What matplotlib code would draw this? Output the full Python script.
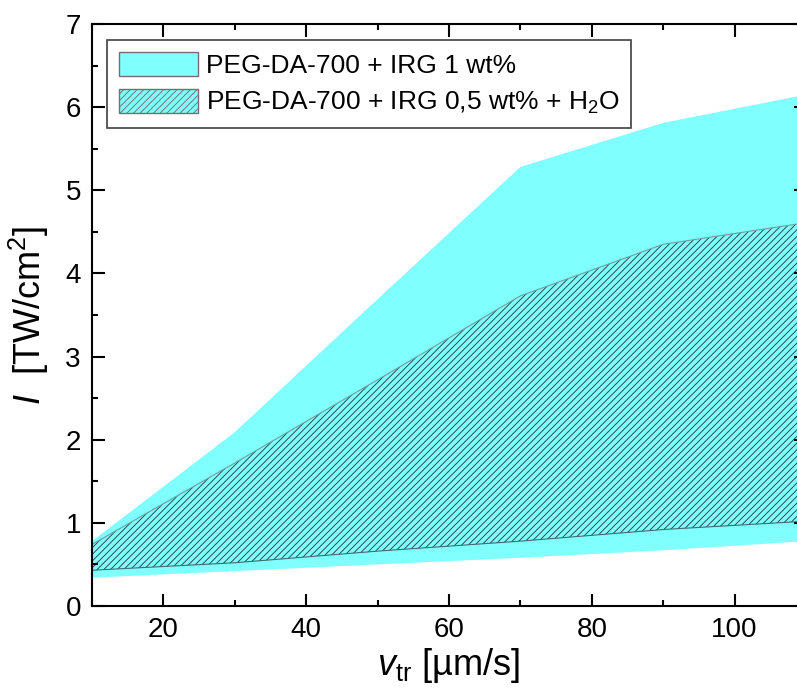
import matplotlib
matplotlib.use("Agg")
import matplotlib.pyplot as plt
from matplotlib.patches import Patch
from matplotlib.ticker import MultipleLocator

plt.rcParams['font.family'] = ['Liberation Sans', 'DejaVu Sans']
plt.rcParams['mathtext.fontset'] = 'custom'
plt.rcParams['mathtext.rm'] = 'Liberation Sans'
plt.rcParams['mathtext.it'] = 'Liberation Sans:italic'
plt.rcParams['mathtext.bf'] = 'Liberation Sans:bold'
plt.rcParams['hatch.linewidth'] = 0.65

# data
v_tr = [10, 30, 50, 70, 90, 110]
irg1_upper = [0.78, 2.09, 3.69, 5.28, 5.81, 6.15]
irg1_lower = [0.34, 0.42, 0.50, 0.58, 0.67, 0.78]
irg05_upper = [0.74, 1.72, 2.72, 3.73, 4.35, 4.61]
irg05_lower = [0.43, 0.52, 0.66, 0.78, 0.92, 1.02]
labels = ["PEG-DA-700 + IRG 1 wt%", "PEG-DA-700 + IRG 0,5 wt% + H$_2$O"]

cyan = '#80FFFF'

fig = plt.figure(figsize=(7.97, 6.95), dpi=100)
ax = fig.add_axes([92/797, 1-606/695, (806-92)/797, (606-24)/695])

ax.fill_between(v_tr, irg1_lower, irg1_upper, facecolor=cyan, edgecolor='none', lw=0)
ax.fill_between(v_tr, irg05_lower, irg05_upper, facecolor=cyan, edgecolor='none', lw=0)
ax.fill_between(v_tr, irg05_lower, irg05_upper, facecolor='none', edgecolor='#1e4444',
                hatch='/////', lw=0)
ax.plot(v_tr, irg05_upper, color='#6e9e9e', lw=0.8)
ax.plot(v_tr, irg05_lower, color='#3e6e6e', lw=0.8)

ax.set_xlim(10, 110)
ax.set_ylim(0, 7)
ax.xaxis.set_major_locator(MultipleLocator(20))
ax.xaxis.set_minor_locator(MultipleLocator(10))
ax.yaxis.set_major_locator(MultipleLocator(1))
ax.yaxis.set_minor_locator(MultipleLocator(0.5))
ax.tick_params(which='both', direction='in', top=True, right=True, width=1.5,
               labelsize=20, pad=8)
ax.tick_params(which='major', length=9)
ax.tick_params(which='minor', length=4.5)
for s in ax.spines.values():
    s.set_linewidth(1.5)

ax.set_xlabel(r"$v_{\mathrm{tr}}$ [µm/s]", fontsize=26, labelpad=2)
ax.set_ylabel(r"$I$  [TW/cm$^2$]", fontsize=26, labelpad=10)

h1 = Patch(facecolor=cyan, edgecolor='#707070', lw=1.0)
h2 = Patch(facecolor=cyan, edgecolor='#707070', lw=1.0, hatch='/////')
leg = ax.legend([h1, h2], labels, loc='upper left', bbox_to_anchor=(0.021, 0.9725),
                borderaxespad=0, fontsize=19, handlelength=3.0, handleheight=1.05,
                handletextpad=0.3, labelspacing=0.4, borderpad=0.45,
                fancybox=False, framealpha=1, edgecolor='#404040')
leg.get_frame().set_linewidth(1.2)

fig.savefig("out.png", dpi=100)
